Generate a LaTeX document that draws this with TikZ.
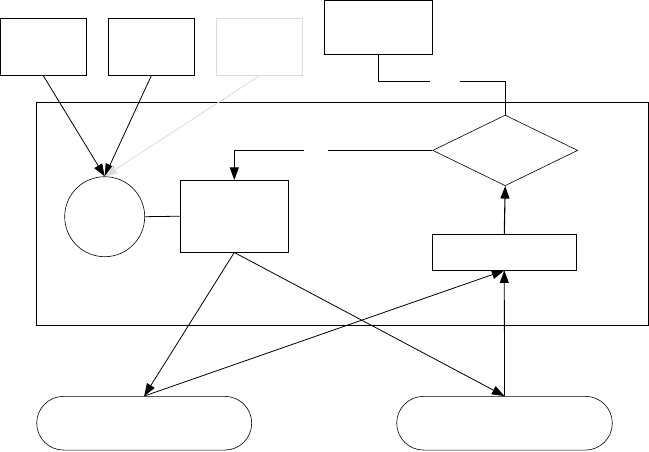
\documentclass[tikz,border=0pt]{standalone}
\usetikzlibrary{arrows.meta,shapes.geometric}
\definecolor{lightbox}{HTML}{DDDDDD}
\begin{document}
\begin{tikzpicture}[x=1pt,y=-1pt,line width=0.8pt,
  box/.style={draw,rectangle,inner sep=0pt},
  pill/.style={draw,rectangle,rounded corners=26.8pt,inner sep=0pt,minimum width=215pt,minimum height=53.7pt},
  arr/.style={-{Triangle[length=12.5pt,width=9pt]}},
  conn/.style={line width=0.8pt}]
\useasboundingbox (0,0) rectangle (649,451);
\node[box,minimum width=86.7pt,minimum height=57pt] (A) at (43.3,46.8) {};
\node[box,minimum width=86pt,minimum height=57pt] (B) at (151.3,46.8) {};
\node[box,draw=lightbox,minimum width=85.6pt,minimum height=57pt] (C) at (259.5,46.8) {};
\node[box,minimum width=108pt,minimum height=54pt] (D) at (378.3,27.3) {};
\node[box,minimum width=612.3pt,minimum height=223pt] (cont) at (342.2,213.8) {};
\node[draw,circle,inner sep=0pt,minimum size=80pt,line width=0.6pt] (circ) at (104.7,216.7) {};
\node[box,minimum width=108pt,minimum height=71.7pt] (E) at (234.3,216.2) {};
\node[draw,diamond,inner sep=0pt,minimum width=145pt,minimum height=70.7pt,line width=0.6pt] (dia) at (505.2,150.4) {};
\node[box,minimum width=144pt,minimum height=35.7pt] (F) at (504.3,252.2) {};
\node[pill,line width=0.6pt] (P1) at (144.2,423.2) {};
\node[pill,line width=0.6pt,minimum width=215.6pt] (P2) at (504.5,423.2) {};
\coordinate (g1) at (430,81);
\coordinate (g2) at (460,81);
\coordinate (g3) at (328,150.4);
\coordinate (g4) at (304,150.4);
\draw[conn,arr] (A.south) -- (circ.north);
\draw[conn,arr] (B.south) -- (circ.north);
\draw[conn,arr,draw=lightbox,fill=lightbox] (C.south) -- (circ.north);
\draw[conn] (circ.east) -- (E.west);
\draw[conn] (D.south) |- (g1);
\draw[conn] (g2) -| (dia.north);
\draw[conn] (dia.west) -- (g3);
\draw[conn,arr] (g4) -| (E.north);
\draw[conn,arr,line width=1.1pt] (F.north) -- (dia.south);
\draw[conn,arr] (E.south) -- (P1.north);
\draw[conn,arr] (E.south) -- (P2.north);
\draw[conn,arr] (P1.north) -- (F.south);
\draw[conn,arr] (P2.north) -- (F.south);
\end{tikzpicture}
\end{document}
